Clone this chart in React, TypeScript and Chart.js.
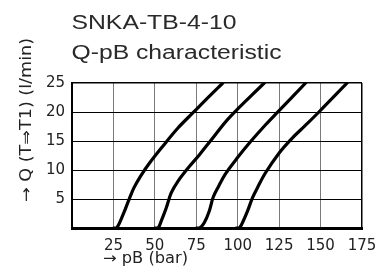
import React, { useEffect, useRef } from 'react';
import { Chart, registerables } from 'chart.js';

Chart.register(...registerables);

const titleLines = ['SNKA-TB-4-10', 'Q-pB characteristic'];
const xAxisTitle = '→ pB (bar)';
const yAxisTitle = '→ Q (T⇒T1) (l/min)';

const xTicks = [25, 50, 75, 100, 125, 150, 175];
const yTicks = [5, 10, 15, 20, 25];

const curve1P = [25, 27, 30.8, 34.8, 37.5, 41.5, 46.8, 54.8, 63.8, 73.8, 82.8, 91];
const curve1Q = [0, 0, 2.3, 5.2, 7.0, 9.0, 11.2, 14.1, 17.2, 20.1, 22.7, 25];

const curve2P = [50, 52, 54, 56.8, 59.8, 63.8, 70.8, 76.8, 83.5, 94.8, 116];
const curve2Q = [0, 0, 1.3, 3.4, 6.0, 8.0, 10.6, 12.6, 15.0, 19.0, 25];

const curve3P = [75, 77, 79.8, 82.8, 85.2, 88.5, 92.5, 99.8, 107.8, 116.8, 123.8, 141];
const curve3Q = [0, 0, 0.9, 2.9, 5.3, 7.2, 9.3, 12.1, 14.9, 17.8, 19.9, 25];

const curve4P = [99, 101, 103, 105.9, 108.9, 112, 116.5, 124.9, 132.9, 140.5, 149, 166];
const curve4Q = [0, 0, 1.0, 2.9, 5.2, 7.0, 9.4, 12.9, 15.5, 17.6, 20, 25];

const FONT = '"DejaVu Sans", "Liberation Sans", Arial, sans-serif';
const TITLE_FONT = '"Liberation Sans", Arial, Helvetica, sans-serif';
const TEXT_COLOR = '#222';

function toPoints(xs: number[], ys: number[]) {
  return xs.map((x, i) => ({ x, y: ys[i] }));
}

function drawStretched(ctx: CanvasRenderingContext2D, text: string, x: number, y: number, width: number, font: string, rotate = false) {
  ctx.save();
  ctx.font = font;
  const w = ctx.measureText(text).width;
  ctx.translate(x, y);
  if (rotate) ctx.rotate(-Math.PI / 2);
  ctx.scale(width / w, 1);
  ctx.fillText(text, 0, 0);
  ctx.restore();
}

const textPlugin = {
  id: 'textPlugin',
  afterDraw(chart: any) {
    const ctx: CanvasRenderingContext2D = chart.ctx;
    ctx.save();
    ctx.textAlign = 'left';
    ctx.textBaseline = 'alphabetic';
    ctx.fillStyle = '#2a2a2a';
    drawStretched(ctx, titleLines[0], 71.5, 28.5, 165, `20px ${TITLE_FONT}`);
    drawStretched(ctx, titleLines[1], 71.5, 58.5, 210, `20px ${TITLE_FONT}`);
    ctx.fillStyle = TEXT_COLOR;
    drawStretched(ctx, xAxisTitle, 103, 263, 85, `15px ${FONT}`);
    drawStretched(ctx, yAxisTitle, 30.5, 202, 164, `15px ${FONT}`, true);
    ctx.restore();
  },
};

export default function App() {
  const ref = useRef<HTMLCanvasElement | null>(null);

  useEffect(() => {
    if (!ref.current) return;
    const curves = [
      toPoints(curve1P, curve1Q),
      toPoints(curve2P, curve2Q),
      toPoints(curve3P, curve3Q),
      toPoints(curve4P, curve4Q),
    ];
    const chart = new Chart(ref.current, {
      type: 'line',
      data: {
        datasets: curves.map((d, i) => ({
          label: `curve ${i + 1}`,
          data: d,
          borderColor: '#000',
          borderWidth: 3.2,
          pointRadius: 0,
          fill: false,
          tension: 0.35,
          borderCapStyle: 'round' as const,
          borderJoinStyle: 'round' as const,
        })),
      },
      options: {
        animation: false,
        responsive: false,
        maintainAspectRatio: false,
        layout: { padding: { top: 83, right: 26, left: 0, bottom: 0 } },
        plugins: {
          legend: { display: false },
          tooltip: { enabled: false },
          title: { display: false },
        },
        scales: {
          x: {
            type: 'linear',
            min: 0,
            max: 175,
            afterFit: (s: any) => { s.height = 49; },
            afterBuildTicks: (s: any) => { s.ticks = [0, ...xTicks].map((v) => ({ value: v })); },
            ticks: {
              padding: 9,
              color: TEXT_COLOR,
              font: { family: FONT, size: 15 },
              maxRotation: 0,
              callback: (v: any) => (xTicks.includes(Number(v)) ? String(v) : ''),
            },
            grid: {
              drawTicks: false,
              color: (c: any) => (c.tick && c.tick.value === 175 ? '#000' : '#7a7a7a'),
              lineWidth: (c: any) => (c.tick && c.tick.value === 175 ? 1.5 : 1),
            },
            border: { display: true, color: '#000', width: 3 },
          },
          y: {
            type: 'linear',
            min: 0,
            max: 25,
            afterFit: (s: any) => { s.width = 72; },
            afterBuildTicks: (s: any) => { s.ticks = [0, ...yTicks].map((v) => ({ value: v })); },
            ticks: {
              padding: 7,
              color: TEXT_COLOR,
              font: { family: FONT, size: 15 },
              callback: (v: any) => (yTicks.includes(Number(v)) ? String(v) : ''),
            },
            grid: {
              drawTicks: false,
              color: '#000',
              lineWidth: (c: any) => (c.tick && c.tick.value === 25 ? 1.5 : 1),
            },
            border: { display: true, color: '#000', width: 2 },
          },
        },
      },
      plugins: [textPlugin],
    } as any);
    return () => chart.destroy();
  }, []);

  return (
    <div style={{ position: 'absolute', left: 0, top: 0, width: 388, height: 277, background: '#fff' }}>
      <canvas ref={ref} width={388} height={277} style={{ display: 'block', width: 388, height: 277 }} />
    </div>
  );
}
